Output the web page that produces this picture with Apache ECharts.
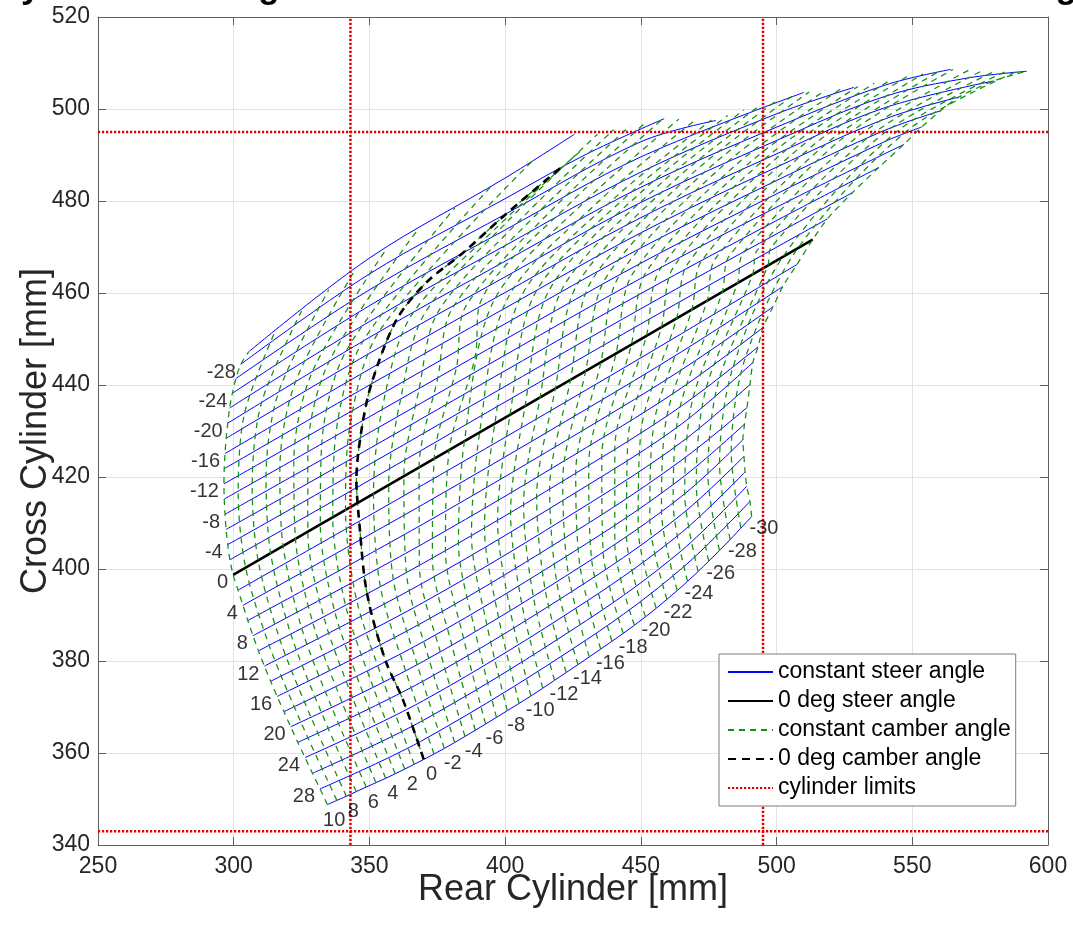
<!DOCTYPE html>
<html><head><meta charset="utf-8">
<script src="https://cdn.jsdelivr.net/npm/echarts@6/dist/echarts.min.js"></script>
<style>html,body{margin:0;padding:0;background:#fff}#c{width:1073px;height:928px}</style>
</head><body><div id="c"></div>
<script>
// ---------------- data ----------------
const titleText = 'Geometry Actuator Diagram for the Steer and Camber Limits of Steering';
const xName = 'Rear Cylinder [mm]';
const yName = 'Cross Cylinder [mm]';
const xMin = 250, xMax = 600, xStep = 50;
const yMin = 340, yMax = 520, yStep = 20;

const steerAngles = [30,28,26,24,22,20,18,16,14,12,10,8,6,4,2,0,-2,-4,-6,-8,-10,-12,-14,-16,-18,-20,-22,-24,-26,-28,-30];
const camberAngles = [10,9,8,7,6,5,4,3,2,1,0,-1,-2,-3,-4,-5,-6,-7,-8,-9,-10,-11,-12,-13,-14,-15,-16,-17,-18,-19,-20,-21,-22,-23,-24,-25,-26,-27,-28,-29,-30];
const steerLabelAngles = [-28,-24,-20,-16,-12,-8,-4,0,4,8,12,16,20,24,28];
const camberLabelAngles = [10,8,6,4,2,0,-2,-4,-6,-8,-10,-12,-14,-16,-18,-20,-22,-24,-26,-28,-30];

// constant steer lines (rear cylinder / cross cylinder), same order as steerAngles
const steerRear = [
 [334.5,341.5,348.8,356.0,363.0,370.0,377.6,385.2,392.8,400.8,409.5,418.2,426.8,435.2,443.5,451.7,459.6,467.2,475.0,482.9,490.8],
 [331.8,370,430,465,490.2],
 [329.0,370,430,465,489.0],
 [326.3,370,430,465,488.4],
 [323.6,370,430,465,488.0],
 [321.0,370,430,465,487.6],
 [318.5,370,430,465,488.2],
 [316.0,370,430,465,489.1],
 [313.6,370,430,465,490.2],
 [311.3,370,430,465,491.3],
 [309.1,370,430,465,493.2],
 [307.1,370,430,465,495.0],
 [305.2,370,430,465,498.7],
 [303.4,370,430,465,502.3],
 [301.6,370,430,465,507.5],
 [299.8,350,400,450,513.3],
 [298.6,350,400,450,500,518.7],
 [297.8,350,400,450,500,527.9],
 [297.2,350,400,450,500,537.7],
 [296.8,350,400,450,500,546.9],
 [296.5,350,400,450,500,540,553.5],
 [296.4,350,400,450,500,540,560.4],
 [296.5,350,400,450,500,540,567.2],
 [296.8,350,400,450,500,540,580.0],
 [297.2,350,400,450,500,540,570,592.1],
 [297.8,350,400,450,500,540,564.1],
 [298.5,350,400,450,500,528.5],
 [299.5,350,400,450,510.1],
 [300.8,350,400,450,477.6],
 [302.6,350,400,430,458.6],
 [305.5,350,400,425.5]
];
const steerCross = [
 [348.8,350.6,352.6,354.5,356.5,358.6,361.0,363.6,366.3,369.2,372.4,375.8,379.2,382.6,386.0,389.6,393.4,397.3,401.7,406.4,411.4],
 [352.2,362.89,384.63,400.08,414.7],
 [355.6,367.16,388.81,404.01,418.0],
 [359.0,371.43,392.99,407.94,421.1],
 [362.3,375.70,397.17,411.87,424.5],
 [365.7,379.97,401.35,415.80,428.1],
 [369.0,384.24,405.53,419.73,431.5],
 [372.3,388.51,409.71,423.66,435.1],
 [375.6,392.78,413.89,427.59,440.1],
 [378.9,397.05,418.07,431.52,444.9],
 [382.2,401.32,422.25,435.45,448.3],
 [385.5,405.59,426.43,439.38,452.5],
 [388.8,409.86,430.61,443.31,457.0],
 [392.1,414.13,434.79,447.24,461.4],
 [395.4,418.40,438.97,451.17,466.2],
 [398.7,415.84,432.91,449.98,471.6],
 [402.0,419.29,436.31,453.28,469.95,476.1],
 [405.3,422.74,439.71,456.58,472.85,481.8],
 [408.6,426.19,443.11,459.88,475.75,487.3],
 [411.9,429.64,446.51,463.18,478.65,492.3],
 [415.2,433.09,449.91,466.48,481.55,492.95,496.1],
 [418.5,436.54,453.31,469.78,484.45,495.4,499.6],
 [421.8,439.99,456.71,473.08,487.35,497.85,502.6],
 [425.1,443.44,460.11,476.38,490.25,500.3,506.1],
 [428.4,446.89,463.51,479.68,493.15,502.75,506.7,508.2],
 [431.7,450.34,466.91,482.98,496.05,505.2,508.6],
 [435.0,453.79,470.31,486.28,498.95,504.7],
 [438.2,457.24,473.71,489.58,503.6],
 [441.4,460.69,477.11,492.88,497.5],
 [444.5,464.14,480.51,490.2,497.9],
 [447.2,467.59,485.0,494.5]
];

// constant camber lines (every degree), same order as camberAngles.
// null: the 10 deg line runs through the steer-line starts, the -30 deg line
// through the steer-line ends (30 .. -18 deg).
const camberRear = [
 null,
 [338.0,324.8,313.1,304.4,301.65,304.0,315.2],
 [341.5,328.6,317.1,309.0,306.8,310.2,325],
 [345.15,332.4,321.1,313.6,311.9,316.45,335],
 [348.8,336.2,325.1,318.2,317.0,322.7,345],
 [352.4,340.0,329.15,322.75,322.15,328.9,356.5],
 [356.0,343.8,333.2,327.3,327.3,335.1,368],
 [359.5,347.6,337.2,331.9,332.4,341.35,381.5],
 [363.0,351.4,341.2,336.5,337.5,347.6,395],
 [366.5,355.2,345.2,341.2,342.65,353.8,410],
 [370.0,362.4,356.3,351.0,348.3,346.5,345.2,347.1,350.8,360.0,371.0,384.6,400.0,420.8],
 [373.8,363.3,354.0,351.5,354.6,365.1,396.6,428],
 [377.6,367.6,358.8,357.1,361.5,370.2,402.1,434],
 [381.4,371.85,363.6,362.7,368.35,375.3,407.7,440],
 [385.2,376.1,368.4,368.3,375.2,380.4,413.2,446],
 [389.0,380.4,373.2,373.85,382.1,385.5,418.8,452],
 [392.8,384.7,378.0,379.4,389.0,390.7,424.4,458],
 [396.8,389.0,382.8,385.0,395.8,429.9,464],
 [400.8,393.3,387.6,390.6,400.9,435.5,470],
 [405.15,397.6,392.4,396.2,406.0,441.0,476],
 [409.5,401.9,397.2,401.8,411.1,446.6,482],
 [413.85,406.15,402.0,407.35,416.2,452.1,488],
 [418.2,410.4,406.8,412.9,421.3,457.7,494],
 [422.5,414.7,411.6,418.5,426.4,463.2,500],
 [426.8,419.0,416.4,424.1,431.5,468.8,506],
 [431.0,423.3,421.2,429.7,436.7,474.4,512],
 [435.2,427.6,426.0,435.3,441.8,479.9,518],
 [439.35,431.85,430.8,440.9,446.9,485.5,524],
 [443.5,436.1,435.6,446.5,452.0,491.0,530],
 [447.6,440.4,440.4,452.05,457.1,496.6,536],
 [451.7,444.7,445.2,457.6,462.2,502.1,542],
 [455.65,449.0,450.0,463.2,467.3,507.7,548],
 [459.6,453.3,454.8,468.8,472.4,513.2,554],
 [463.4,457.6,459.6,474.4,477.5,518.8,560],
 [467.2,461.9,464.4,480.0,482.6,523.8,565],
 [471.1,466.15,469.2,485.6,487.7,529.4,571],
 [475.0,470.4,474.0,491.2,492.9,534.5,576],
 [478.95,474.7,478.8,496.75,498.0,539.5,581],
 [482.9,479.0,483.6,502.3,544.1,585],
 [486.85,483.3,488.4,507.8,548.6,589],
 null
];
const camberCross = [
 null,
 [349.7,366.65,383.35,400.27,416.5,433.9,451.6],
 [350.6,367.6,384.5,401.84,417.8,436.05,456.1],
 [351.6,368.7,385.75,403.41,419.65,438.3,460.7],
 [352.6,369.8,387.0,404.98,421.5,440.6,465.3],
 [353.55,370.9,388.3,406.5,423.3,442.8,469.8],
 [354.5,372.0,389.55,408.09,425.1,445.05,473.9],
 [355.5,373.15,390.8,409.66,426.9,447.3,478.5],
 [356.5,374.3,392.1,411.23,428.7,449.5,483.3],
 [357.55,375.45,393.45,412.9,430.5,451.85,488.7],
 [358.6,371.5,379.5,389.7,397.6,408.5,419.4,430.3,440.4,454.2,462.3,468.8,477.0,487.4],
 [359.8,377.9,396.25,416.4,434.6,454.8,474.1,491],
 [361.0,379.25,397.7,418.26,436.96,455.4,476.3,494.5],
 [362.3,380.6,399.25,420.2,439.3,455.9,477.2,495.5],
 [363.6,381.95,400.8,422.09,441.6,456.5,478.1,496.3],
 [364.95,383.4,402.4,424.0,443.9,457.1,479.0,497.2],
 [366.3,384.9,404.0,425.88,446.25,457.7,479.8,497.8],
 [367.75,386.35,405.65,427.8,458.3,480.2,497.8],
 [369.2,387.8,407.3,429.70,458.8,480.5,497.6],
 [370.8,389.35,408.95,431.6,459.4,481.0,497.6],
 [372.4,390.9,410.6,433.52,460.0,482.0,498.6],
 [374.1,392.4,412.25,435.4,460.6,483.0,499.8],
 [375.8,393.96,413.9,437.31,461.2,484.0,500.8],
 [377.5,395.6,415.6,439.2,461.7,484.9,501.8],
 [379.2,397.2,417.3,441.14,462.3,485.9,502.9],
 [380.9,398.85,419.05,443.05,462.9,486.8,503.7],
 [382.6,400.5,420.8,444.96,463.5,487.5,504.1],
 [384.3,402.1,422.55,446.9,464.1,488.1,504.5],
 [386.0,403.7,424.3,448.78,464.6,488.8,504.9],
 [387.8,405.4,426.05,450.7,465.2,489.6,505.6],
 [389.6,407.1,427.8,452.57,465.8,490.4,506.3],
 [391.5,408.9,429.65,454.5,466.4,491.2,507.0],
 [393.4,410.7,431.5,456.40,467.0,492.0,507.6],
 [395.35,412.55,433.3,458.3,467.5,492.7,508.2],
 [397.3,414.4,435.1,460.22,468.1,493.4,508.6],
 [399.5,416.4,437.15,462.1,468.7,493.8,508.5],
 [401.7,418.4,439.2,464.04,469.3,494.2,508.4],
 [404.05,420.55,441.2,465.9,469.9,494.7,508.4],
 [406.4,422.7,443.2,467.83,495.0,508.3],
 [408.9,425.4,445.75,469.7,495.5,508.3],
 null
];

// cylinder limits
const limitRear = [343, 495];
const limitCross = [343, 495];

// ---------------- chart ----------------
const FONT = '"Liberation Sans", Arial, Helvetica, sans-serif';
const AXC = '#5f5f5f';
const TXT = '#262626';

function steerPts(i) { return steerRear[i].map((x, k) => [x, steerCross[i][k]]); }
function camberPts(j) {
  if (camberRear[j]) return camberRear[j].map((x, k) => [x, camberCross[j][k]]);
  if (j === 0) return steerRear.map((r, i) => [r[0], steerCross[i][0]]);
  const last = steerAngles.indexOf(-18);
  return steerRear.slice(0, last + 1).map((r, i) => [r[r.length - 1], steerCross[i][steerCross[i].length - 1]]);
}

const series = [];
steerAngles.forEach((a, i) => {
  series.push({ name: 'constant steer angle', type: 'line', data: steerPts(i), smooth: 0.35,
    symbol: 'none', showSymbol: false, silent: true, z: 2, animation: false,
    lineStyle: { color: '#0000ff', width: 1 } });
});
series.push({ name: '0 deg steer angle', type: 'line', data: steerPts(steerAngles.indexOf(0)), smooth: 0.35,
  symbol: 'none', showSymbol: false, silent: true, z: 3, animation: false,
  lineStyle: { color: '#000', width: 2.6 } });
camberAngles.forEach((c, j) => {
  series.push({ name: 'constant camber angle', type: 'line', data: camberPts(j), smooth: 0.3,
    symbol: 'none', showSymbol: false, silent: true, z: 4, animation: false,
    lineStyle: { color: '#138f13', width: 1.25, type: [6, 5] } });
});
series.push({ name: '0 deg camber angle', type: 'line', data: camberPts(camberAngles.indexOf(0)), smooth: 0.3,
  symbol: 'none', showSymbol: false, silent: true, z: 5, animation: false,
  lineStyle: { color: '#000', width: 2.6, type: [8, 6] } });
const redStyle = { color: '#e00000', width: 2.5, type: [2.2, 1.8] };
limitRear.forEach(v => series.push({ name: 'cylinder limits', type: 'line', data: [[v, yMin], [v, yMax]],
  symbol: 'none', showSymbol: false, silent: true, z: 6, animation: false, lineStyle: redStyle }));
limitCross.forEach(v => series.push({ name: 'cylinder limits', type: 'line', data: [[xMin, v], [xMax, v]],
  symbol: 'none', showSymbol: false, silent: true, z: 6, animation: false, lineStyle: redStyle }));

// steer labels at the start of lines
const steerLabelData = steerLabelAngles.map(a => {
  const i = steerAngles.indexOf(a);
  return [steerRear[i][0], steerCross[i][0], String(a)];
});
series.push({ type: 'scatter', data: steerLabelData, symbolSize: 0, silent: true, z: 7, animation: false,
  label: { show: true, position: 'left', distance: 5, offset: [0, 8], formatter: p => p.data[2],
    fontSize: 20, fontFamily: FONT, color: '#000' } });

const chart = echarts.init(document.getElementById('c'), null, { renderer: 'canvas' });
const axisCommon = {
  type: 'value', axisLine: { show: true, onZero: false, lineStyle: { color: AXC, width: 1 } },
  axisTick: { show: true, inside: true, length: 8, lineStyle: { color: AXC } },
};
const option = {
  animation: false,
  backgroundColor: '#fff',
  grid: { left: 98, top: 17, width: 950, height: 828, show: false },
  graphic: [{ type: 'text', x: -123, y: -12, silent: true, z: 100,
    style: { text: titleText, font: 'bold 35px ' + FONT, fill: '#000', align: 'left', verticalAlign: 'middle' } }],
  xAxis: [
    Object.assign({}, axisCommon, { min: xMin, max: xMax, interval: xStep, position: 'bottom',
      axisLabel: { fontSize: 23, color: TXT, fontFamily: FONT, margin: 10 },
      splitLine: { show: true, lineStyle: { color: '#e3e3e3', width: 1 } },
      name: xName, nameLocation: 'middle', nameGap: 27, nameMoveOverlap: false,
      nameTextStyle: { fontSize: 36, color: TXT, fontFamily: FONT } }),
    Object.assign({}, axisCommon, { min: xMin, max: xMax, interval: xStep, position: 'top',
      axisLabel: { show: false }, splitLine: { show: false } })
  ],
  yAxis: [
    Object.assign({}, axisCommon, { min: yMin, max: yMax, interval: yStep, position: 'left',
      axisLabel: { fontSize: 23, color: TXT, fontFamily: FONT, margin: 8 },
      splitLine: { show: true, lineStyle: { color: '#e3e3e3', width: 1 } },
      name: yName, nameLocation: 'middle', nameGap: 44, nameMoveOverlap: false,
      nameTextStyle: { fontSize: 36, color: TXT, fontFamily: FONT } }),
    Object.assign({}, axisCommon, { min: yMin, max: yMax, interval: yStep, position: 'right',
      axisLabel: { show: false }, splitLine: { show: false } })
  ],
  legend: {
    data: ['constant steer angle', '0 deg steer angle', 'constant camber angle', '0 deg camber angle', 'cylinder limits'],
    orient: 'vertical', left: 719, top: 654, itemWidth: 45, itemHeight: 14, itemGap: 5,
    padding: [6, 5, 6, 8], backgroundColor: '#fff', borderColor: '#7d7d7d', borderWidth: 1,
    selectedMode: false, z: 20,
    itemStyle: { opacity: 0 },
    textStyle: { fontSize: 23, color: '#000', fontFamily: FONT, lineHeight: 24, padding: [0, 0, 0, 0] }
  },
  series: series
};
chart.setOption(option);

// camber labels below the bottom line, pushed out along its normal
const bottom = steerPts(0);
const pix = bottom.map(p => chart.convertToPixel({ gridIndex: 0 }, p));
const camberLabelData = camberLabelAngles.map((c, j) => {
  const a = pix[Math.max(0, j - 1)], b = pix[Math.min(pix.length - 1, j + 1)];
  const tx = b[0] - a[0], ty = b[1] - a[1], L = Math.hypot(tx, ty) || 1;
  const ox = -ty / L * 17, oy = tx / L * 17;
  return { value: [bottom[j][0], bottom[j][1], String(c)], label: { offset: [ox, oy] } };
});
series.push({ type: 'scatter', data: camberLabelData, symbolSize: 0, silent: true, z: 7, animation: false,
  label: { show: true, position: 'inside', formatter: p => p.data.value[2],
    fontSize: 20, fontFamily: FONT, color: '#000' } });
chart.setOption({ series: series });
</script></body></html>
